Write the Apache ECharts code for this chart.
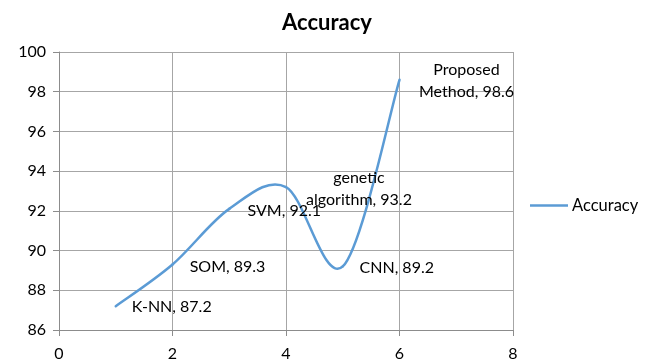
<!DOCTYPE html>
<html>
<head>
<meta charset="utf-8">
<script src="https://cdn.jsdelivr.net/npm/echarts@6/dist/echarts.min.js"></script>
<style>
  html, body { margin: 0; padding: 0; background: #fff; }
  #chart { width: 654px; height: 363px; }
</style>
</head>
<body>
<div id="chart"></div>
<script>
// Accuracy of each method
const methodNames = ['K-NN', 'SOM', 'SVM', 'genetic\nalgorithm', 'CNN', 'Proposed\nMethod'];
const xValues = [1, 2, 3, 4, 5, 6];
const accuracy = [87.2, 89.3, 92.1, 93.2, 89.2, 98.6];
const seriesName = 'Accuracy';

const FONT = 'Lato, "Liberation Sans", sans-serif';
const LINE_COLOR = '#5b9bd5';

// label placement: offset of the label centre from its point
const labelOffsets = [[56, 1], [55, 2], [55, 2], [73, 2], [54, 1], [67, 1]];

const pairs = xValues.map((x, i) => [x, accuracy[i]]);

// Smoothed line: each item draws the cubic segment to the next point,
// with Catmull-Rom style control points taken from the neighbouring points.
function renderSegment(params, api) {
  const i = params.dataIndex;
  const n = pairs.length;
  if (i >= n - 1) return null;
  const p = k => api.coord(pairs[Math.max(0, Math.min(n - 1, k))]);
  const p0 = p(i - 1), p1 = p(i), p2 = p(i + 1), p3 = p(i + 2);
  const cp1 = [p1[0] + (p2[0] - p0[0]) / 6, p1[1] + (p2[1] - p0[1]) / 6];
  const cp2 = [p2[0] - (p3[0] - p1[0]) / 6, p2[1] - (p3[1] - p1[1]) / 6];
  return {
    type: 'bezierCurve',
    shape: { x1: p1[0], y1: p1[1], cpx1: cp1[0], cpy1: cp1[1], cpx2: cp2[0], cpy2: cp2[1], x2: p2[0], y2: p2[1] },
    style: { stroke: LINE_COLOR, lineWidth: 2.5, fill: null, lineCap: 'round' }
  };
}

const labelPoints = pairs.map((v, i) => ({
  value: v,
  label: {
    position: 'inside',
    align: 'center',
    verticalAlign: 'middle',
    offset: labelOffsets[i],
    formatter: methodNames[i] + ', ' + accuracy[i].toFixed(1)
  }
}));

const chart = echarts.init(document.getElementById('chart'), null, { renderer: 'canvas' });
chart.setOption({
  animation: false,
  backgroundColor: '#ffffff',
  title: {
    text: 'Accuracy',
    left: 'center',
    top: 7,
    textStyle: { fontFamily: FONT, fontSize: 22, fontWeight: 'bold', color: '#000' }
  },
  legend: {
    data: [{ name: seriesName, icon: 'rect' }],
    left: 525,
    top: 192,
    itemWidth: 38,
    itemHeight: 2.5,
    itemGap: 4,
    itemStyle: { color: LINE_COLOR },
    textStyle: { fontFamily: FONT, fontSize: 16.5, color: '#000', padding: [0, 0, 0, -1] }
  },
  grid: { left: 59, right: 141, top: 52, bottom: 33 },
  xAxis: {
    type: 'value',
    min: 0, max: 8, interval: 2,
    axisLine: { show: true, lineStyle: { color: '#8c8c8c', width: 1 } },
    axisTick: { show: true, inside: false, length: 6, lineStyle: { color: '#8c8c8c' } },
    axisLabel: { fontFamily: FONT, fontSize: 16, color: '#000', margin: 16 },
    splitLine: { show: true, lineStyle: { color: '#a6a6a6', width: 1 } }
  },
  yAxis: {
    type: 'value',
    min: 86, max: 100, interval: 2,
    axisLine: { show: true, lineStyle: { color: '#8c8c8c', width: 1 } },
    axisTick: { show: true, inside: false, length: 6, lineStyle: { color: '#8c8c8c' } },
    axisLabel: { fontFamily: FONT, fontSize: 16, color: '#000', margin: 13 },
    splitLine: { show: true, lineStyle: { color: '#a6a6a6', width: 1 } }
  },
  series: [{
    name: seriesName,
    type: 'custom',
    renderItem: renderSegment,
    data: pairs,
    itemStyle: { color: LINE_COLOR },
    z: 3
  }, {
    name: 'labels',
    type: 'scatter',
    data: labelPoints,
    symbolSize: 0,
    silent: true,
    z: 4,
    itemStyle: { opacity: 1, color: '#000' },
    label: {
      show: true,
      fontFamily: FONT,
      fontSize: 16,
      color: '#000',
      opacity: 1,
      textBorderWidth: 0,
      lineHeight: 22
    }
  }]
});
</script>
</body>
</html>
